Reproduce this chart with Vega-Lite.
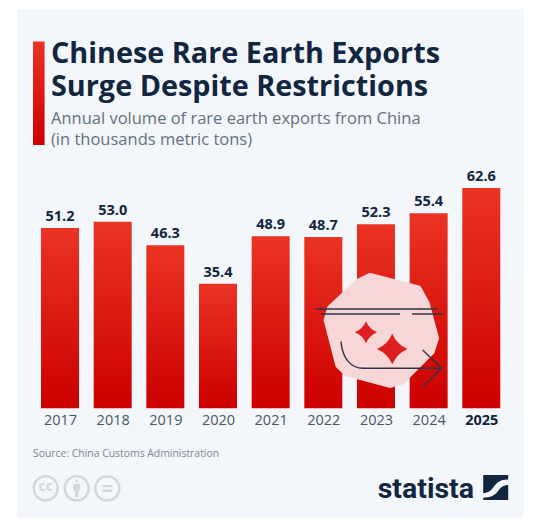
{
  "$schema": "https://vega.github.io/schema/vega-lite/v6.json",
  "width": 507,
  "height": 508,
  "autosize": {"type": "none"},
  "padding": {"left": 17, "top": 9, "right": 10, "bottom": 9},
  "background": "#ffffff",
  "view": {"fill": "#f3f6fa", "stroke": null},
  "title": {
    "text": ["Chinese Rare Earth Exports", "Surge Despite Restrictions"],
    "subtitle": ["Annual volume of rare earth exports from China", "(in thousands metric tons)"],
    "anchor": "start",
    "frame": "group",
    "dx": 34,
    "offset": -139,
    "font": "Open Sans",
    "fontSize": 28.8,
    "fontWeight": 700,
    "lineHeight": 33,
    "color": "#12263f",
    "subtitleFont": "Open Sans",
    "subtitleFontSize": 16.5,
    "subtitleLineHeight": 21,
    "subtitleColor": "#64717e",
    "subtitlePadding": 9
  },
  "data": {
    "values": [
      {"year": 2017, "exports": 51.2},
      {"year": 2018, "exports": 53.0},
      {"year": 2019, "exports": 46.3},
      {"year": 2020, "exports": 35.4},
      {"year": 2021, "exports": 48.9},
      {"year": 2022, "exports": 48.7},
      {"year": 2023, "exports": 52.3},
      {"year": 2024, "exports": 55.4},
      {"year": 2025, "exports": 62.6}
    ]
  },
  "layer": [
    {
      "mark": {
        "type": "bar",
        "size": 38,
        "color": {
          "gradient": "linear", "x1": 0, "y1": 0, "x2": 0, "y2": 1,
          "stops": [{"offset": 0, "color": "#ea3323"}, {"offset": 1, "color": "#cc0000"}]
        }
      },
      "encoding": {
        "x": {
          "field": "year",
          "type": "quantitative",
          "scale": {"domain": [2016.183, 2025.811], "nice": false, "zero": false, "padding": 0},
          "axis": {
            "title": null,
            "values": [2017, 2018, 2019, 2020, 2021, 2022, 2023, 2024, 2025],
            "format": "d",
            "offset": -108.7,
            "domain": false,
            "ticks": false,
            "grid": false,
            "labelPadding": 5,
            "labelFont": "Open Sans",
            "labelFontSize": 14.5,
            "labelColor": {"expr": "datum.value == 2025 ? '#12263f' : '#4b5662'"},
            "labelFontWeight": {"expr": "datum.value == 2025 ? 700 : 400"}
          }
        },
        "y": {
          "field": "exports",
          "type": "quantitative",
          "scale": {"domain": [-30.88, 113.44], "nice": false, "zero": false},
          "axis": null
        }
      }
    },
    {
      "mark": {"type": "text", "baseline": "bottom", "dy": -4, "font": "Open Sans", "fontSize": 14.5, "fontWeight": 700, "color": "#12263f"},
      "encoding": {
        "x": {"field": "year", "type": "quantitative"},
        "y": {"field": "exports", "type": "quantitative"},
        "text": {"field": "exports", "type": "quantitative", "format": ".1f"}
      }
    },
    {
      "data": {"values": [{"item": "accent"}]},
      "mark": {
        "type": "rect",
        "color": {
          "gradient": "linear", "x1": 0, "y1": 0, "x2": 0, "y2": 1,
          "stops": [{"offset": 0, "color": "#ea3323"}, {"offset": 1, "color": "#cc0000"}]
        }
      },
      "encoding": {
        "x": {"datum": 2016.487, "type": "quantitative"},
        "x2": {"datum": 2016.707},
        "y": {"datum": 104.2, "type": "quantitative"},
        "y2": {"datum": 74.8}
      }
    },
    {
      "data": {"values": [{"item": "badge"}]},
      "encoding": {
        "x": {"datum": 2023.076, "type": "quantitative"},
        "y": {"datum": 21.68, "type": "quantitative"}
      },
      "layer": [
        {
          "mark": {
            "type": "point", "filled": true, "size": 16900, "opacity": 1,
            "color": "#f6d6d6", "stroke": "#f6d6d6", "strokeWidth": 6, "strokeJoin": "round",
            "shape": "M-.154,-.862 L.589,-.672 L.718,-.442 L.862,.097 L.795,.303 L.334,.765 L.154,.815 L-.512,.635 L-.642,.508 L-.82,-.185 L-.769,-.365 L-.334,-.774 Z"
          }
        },
        {
          "mark": {
            "type": "point", "filled": true, "size": 16900, "opacity": 1, "color": "#dd1f1f",
            "shape": "M-.215,-.164 Q-.165,-.045 -.046,.005 Q-.165,.055 -.215,.174 Q-.265,.055 -.384,.005 Q-.265,-.045 -.215,-.164 Z M.189,.027 Q.259,.192 .424,.262 Q.259,.332 .189,.497 Q.119,.332 -.046,.262 Q.119,.192 .189,.027 Z"
          }
        },
        {
          "mark": {
            "type": "point", "filled": false, "size": 16900, "opacity": 1, "fill": null,
            "stroke": "#2f3546", "strokeWidth": 1.4,
            "shape": "M-.985,-.354 L.892,-.354 M-.908,-.277 L.308,-.277 M.492,-.277 L.969,-.277 M-.6,.149 C-.58,.4 -.45,.558 -.257,.558 L.923,.558 M.657,.277 L.949,.558 L.657,.842"
          }
        }
      ]
    },
    {
      "data": {"values": [{"label": "Source: China Customs Administration"}]},
      "mark": {"type": "text", "align": "left", "font": "Open Sans", "fontSize": 10.4, "color": "#7b8692"},
      "encoding": {
        "x": {"datum": 2016.487, "type": "quantitative"},
        "y": {"datum": -12.9, "type": "quantitative"},
        "text": {"field": "label"}
      }
    },
    {
      "data": {"values": [{"label": "statista"}]},
      "mark": {"type": "text", "align": "right", "font": "Roboto", "fontSize": 28.5, "fontWeight": 700, "color": "#12263f"},
      "encoding": {
        "x": {"datum": 2024.861, "type": "quantitative"},
        "y": {"datum": -22.9, "type": "quantitative"},
        "text": {"field": "label"}
      }
    },
    {
      "data": {"values": [{"item": "logo"}]},
      "mark": {
        "type": "point", "filled": true, "size": 625, "opacity": 1, "color": "#12263f",
        "shape": "M-1,-1 L1,-1 L1,-.65 C.3,-.65 .1,-.4 -.2,0 C-.4,.3 -.7,.45 -1,.45 Z M1,-.2 L1,1 L-1,1 L-1,.8 C-.3,.8 0,.55 .2,.25 C.45,-.1 .7,-.2 1,-.2 Z"
      },
      "encoding": {
        "x": {"datum": 2025.274, "type": "quantitative"},
        "y": {"datum": -22.5, "type": "quantitative"}
      }
    },
    {
      "data": {"values": [{"year": 2016.728}, {"year": 2017.317}, {"year": 2017.898}]},
      "mark": {"type": "point", "shape": "circle", "filled": false, "fill": null, "size": 576, "opacity": 1, "stroke": "#d3d7dc", "strokeWidth": 2.5},
      "encoding": {
        "x": {"field": "year", "type": "quantitative"},
        "y": {"datum": -22.73, "type": "quantitative"}
      }
    },
    {
      "data": {"values": [{"label": "cc"}]},
      "mark": {"type": "text", "font": "Open Sans", "fontSize": 14, "fontWeight": 700, "dy": -1, "color": "#d3d7dc"},
      "encoding": {
        "x": {"datum": 2016.728, "type": "quantitative"},
        "y": {"datum": -22.73, "type": "quantitative"},
        "text": {"field": "label"}
      }
    },
    {
      "data": {"values": [{"item": "person"}]},
      "mark": {
        "type": "point", "filled": true, "size": 576, "opacity": 1, "color": "#d3d7dc",
        "shape": "M-.12,-.62 A.12,.12 0 1 1 .12,-.62 A.12,.12 0 1 1 -.12,-.62 Z M-.28,-.38 L.28,-.38 L.28,.2 L.14,.2 L.14,.75 L-.14,.75 L-.14,.2 L-.28,.2 Z"
      },
      "encoding": {
        "x": {"datum": 2017.317, "type": "quantitative"},
        "y": {"datum": -22.73, "type": "quantitative"}
      }
    },
    {
      "data": {"values": [{"item": "equals"}]},
      "mark": {
        "type": "point", "filled": true, "size": 576, "opacity": 1, "color": "#d3d7dc",
        "shape": "M-.42,-.28 L.42,-.28 L.42,-.08 L-.42,-.08 Z M-.42,.1 L.42,.1 L.42,.3 L-.42,.3 Z"
      },
      "encoding": {
        "x": {"datum": 2017.898, "type": "quantitative"},
        "y": {"datum": -22.73, "type": "quantitative"}
      }
    }
  ]
}
